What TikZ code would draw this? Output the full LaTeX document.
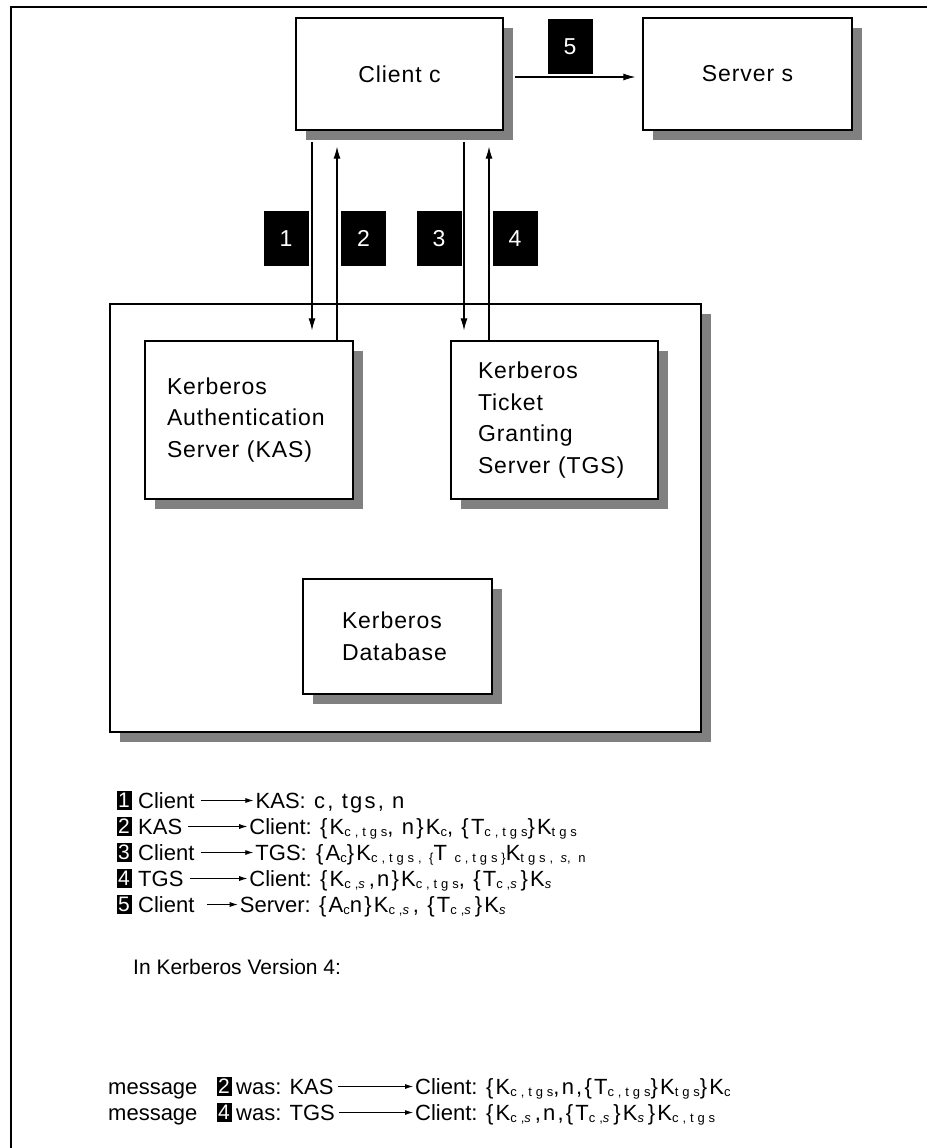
\documentclass[tikz,border=0pt]{standalone}
\usepackage{fontspec}
\setmainfont{Liberation Sans}
\newfontfamily\boxfont[LetterSpace=4]{Liberation Sans}
\newfontfamily\formfont[LetterSpace=10]{Liberation Sans}
\newfontfamily\subfont[LetterSpace=30]{Liberation Sans}
\usepackage{tikz}
\usetikzlibrary{positioning,arrows.meta,shadows}
\definecolor{shadowGray}{HTML}{808080}

% small lowered subscript as in the printed formulas
\newcommand{\ksub}[1]{\raisebox{-2pt}{\subfont\fontsize{13}{13}\selectfont #1}}

\begin{document}
\begin{tikzpicture}[x=1pt, y=-1pt,
  box/.style={draw, line width=1.3pt, fill=white, inner sep=0pt,
    drop shadow={shadow xshift=10pt, shadow yshift=-10pt, fill=shadowGray, opacity=1},
    font=\boxfont\fontsize{23}{31.5}\selectfont},
  badge/.style={fill=black, text=white, inner sep=0pt, minimum width=45pt,
    minimum height=55pt, font=\fontsize{23}{23}\selectfont},
  tag/.style={fill=black, text=white, inner sep=0pt, minimum width=15pt,
    minimum height=19pt, font=\fontsize{21}{21}\selectfont},
  leg/.style={anchor=base west, inner sep=0pt, text height=15pt, text depth=0pt,
    font=\fontsize{22}{26}\selectfont},
  form/.style={leg, font=\formfont\fontsize{22}{26}\selectfont},
  msg/.style={-{Latex[length=12pt,width=7pt]}, line width=1.1pt},
  legarrow/.style={-{Latex[length=8pt,width=5pt]}, line width=0.8pt, shorten <=6pt, shorten >=2pt}]

  \useasboundingbox (0,0) rectangle (926,1148);
  \draw[line width=1.5pt] (11,7) rectangle (960,1180);

  % Client and server
  \node[box, minimum width=207pt, minimum height=112pt] (client) at (399.5,74) {Client c};
  \node[box, minimum width=209pt, minimum height=112pt] (server) at (747.5,74) {Server s};

  % Key distribution centre with its three parts
  \node[box, minimum width=591pt, minimum height=428pt] (kdc) at (405.5,518) {};
  \node[box, align=left, text width=164pt, inner xsep=22pt, minimum height=158pt] (kas) at (249,420)
    {Kerberos\\Authentication\\Server (KAS)};
  \node[box, align=left, text width=153pt, inner xsep=27pt, minimum height=158pt] (tgs) at (554.5,420)
    {Kerberos\\Ticket\\Granting\\Server (TGS)};
  \node[box, align=left, text width=111pt, inner xsep=39pt, minimum height=115pt] (kdb) at (397.5,636.5)
    {Kerberos\\Database};

  % Messages 1-5 between client and servers
  \coordinate (c1) at (312,0);
  \coordinate (c2) at (337,0);
  \coordinate (c3) at (464,0);
  \coordinate (c4) at (489,0);
  \coordinate (c5) at (0,77);
  \draw[msg, shorten <=11pt, shorten >=10pt] (c1 |- client.south) -- (c1 |- kas.north);
  \draw[msg, shorten >=16pt] (c2 |- kas.north) -- (c2 |- client.south);
  \draw[msg, shorten <=11pt, shorten >=10pt] (c3 |- client.south) -- (c3 |- tgs.north);
  \draw[msg, shorten >=16pt] (c4 |- tgs.north) -- (c4 |- client.south);
  \draw[msg, shorten <=11pt, shorten >=7pt] (c5 -| client.east) -- (c5 -| server.west);

  \node[badge] (b1) at (286,238.5) {1};
  \node[badge] (b2) at (363.5,238.5) {2};
  \node[badge] (b3) at (439,238.5) {3};
  \node[badge] (b4) at (515,238.5) {4};
  \node[badge] (b5) at (570,46.5) {5};

  % Legend
  \node[tag] (t1) at (124,800) {1};
  \node[leg] (f1) at (138,808) {Client};
  \node[leg, anchor=base east] (r1) at (306,808) {KAS:};
  \node[form] (m1) at (314,808) {c, tgs, n};
  \draw[legarrow] (f1.east) -- (r1.west);

  \node[tag] (t2) at (124,826) {2};
  \node[leg] (f2) at (138,834) {KAS};
  \node[leg, anchor=base east] (r2) at (312,834) {Client:};
  \node[form] (m2) at (320,834) {\{K\ksub{c,tgs}, n\}K\ksub{c}, \{T\ksub{c,tgs}\}K\ksub{tgs}};
  \draw[legarrow] (f2.east) -- (r2.west);

  \node[tag] (t3) at (124,852) {3};
  \node[leg] (f3) at (138,860) {Client};
  \node[leg, anchor=base east] (r3) at (307,860) {TGS:};
  \node[form] (m3) at (316,860) {\{A\ksub{c}\}K\ksub{c,tgs, \{}T\ksub{ c,tgs\}}K\ksub{tgs, \textit{s}, n}};
  \draw[legarrow] (f3.east) -- (r3.west);

  \node[tag] (t4) at (124,878) {4};
  \node[leg] (f4) at (138,886) {TGS};
  \node[leg, anchor=base east] (r4) at (312,886) {Client:};
  \node[form] (m4) at (320,886) {\{K\ksub{c,\textit{s}},n\}K\ksub{c,tgs}, \{T\ksub{c,\textit{s}}\}K\ksub{\textit{s}}};
  \draw[legarrow] (f4.east) -- (r4.west);

  \node[tag] (t5) at (124,904) {5};
  \node[leg] (f5) at (138,912) {Client};
  \node[leg, anchor=base east] (r5) at (311,912) {Server:};
  \node[form] (m5) at (319,912) {\{A\ksub{c}n\}K\ksub{c,\textit{s}}, \{T\ksub{c,\textit{s}}\}K\ksub{\textit{s}}};
  \draw[legarrow, shorten <=12pt] (f5.east) -- (r5.west);

  % Version 4 variants
  \node[leg, font=\fontsize{21}{26}\selectfont] (v4) at (133,974) {In Kerberos Version 4:};

  \node[leg] (w2) at (108,1094) {message};
  \node[tag] (u2) at (224,1086) {2};
  \node[leg] (s2) at (236,1094) {was: KAS};
  \node[leg] (e2) at (415,1094) {Client:};
  \node[form] (d2) at (486,1094) {\{K\ksub{c,tgs},n,\{T\ksub{c,tgs}\}K\ksub{tgs}\}K\ksub{c}};
  \draw[legarrow, shorten <=4pt] (s2.east) -- (e2.west);

  \node[leg] (w4) at (108,1120) {message};
  \node[tag] (u4) at (224,1112) {4};
  \node[leg] (s4) at (236,1120) {was: TGS};
  \node[leg] (e4) at (415,1120) {Client:};
  \node[form] (d4) at (486,1120) {\{K\ksub{c,\textit{s}},n,\{T\ksub{c,\textit{s}}\}K\ksub{\textit{s}}\}K\ksub{c,tgs}};
  \draw[legarrow, shorten <=4pt] (s4.east) -- (e4.west);
\end{tikzpicture}
\end{document}
